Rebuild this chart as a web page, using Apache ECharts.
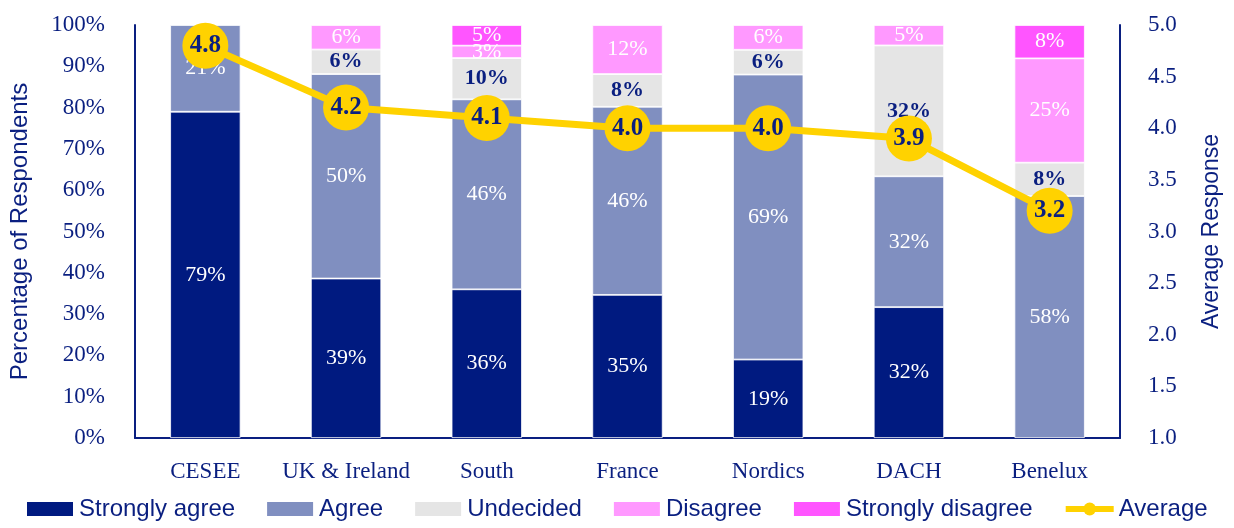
<!DOCTYPE html>
<html>

<head>
  <meta charset="utf-8">
  <script src="https://cdn.jsdelivr.net/npm/echarts@6/dist/echarts.min.js"></script>
  <style>
    body {
      margin: 0;
    }

    #chart {
      width: 1234px;
      height: 528px;
    }
  </style>
</head>

<body>
  <div id="chart"></div>
  <script>
    // data
    const regions = ['CESEE', 'UK & Ireland', 'South', 'France', 'Nordics', 'DACH', 'Benelux']
    const stronglyAgree = [79, 39, 36, 35, 19, 32, 0]
    const agree = [21, 50, 46, 46, 69, 32, 58]
    const undecided = [0, 6, 10, 8, 6, 32, 8]
    const disagree = [0, 6, 3, 12, 6, 5, 25]
    const stronglyDisagree = [0, 0, 5, 0, 0, 0, 8]
    const average = [4.8, 4.2, 4.1, 4.0, 4.0, 3.9, 3.2]
    const pctTicks = [0, 100, 10]
    const avgTicks = [1, 5, 0.5]

    const navy = '#0a1f80'
    const gold = '#ffd200'
    const serif = '"Liberation Serif", "DejaVu Serif", serif'
    const sans = '"Liberation Sans", sans-serif'

    // rounded shares don't always sum to 100, so bars are scaled to fill 100%
    const allShares = [stronglyAgree, agree, undecided, disagree, stronglyDisagree]
    const totals = regions.map((r, i) => allShares.reduce((s, a) => s + a[i], 0))

    function barSeries(name, data, color, labelColor) {
      return {
        name: name,
        type: 'bar',
        stack: 'total',
        barWidth: '50%',
        data: data.map((v, i) => ({
          value: v ? v / totals[i] * 100 : null,
          raw: v
        })),
        itemStyle: {
          color: color,
          borderColor: '#ffffff',
          borderWidth: 0.8
        },
        label: {
          show: true,
          color: labelColor,
          fontFamily: serif,
          fontSize: 22,
          fontWeight: labelColor === '#ffffff' ? 'normal' : 'bold',
          formatter: function (p) {
            return p.data.raw ? p.data.raw + '%' : ''
          }
        }
      }
    }

    const barNames = ['Strongly agree', 'Agree', 'Undecided', 'Disagree', 'Strongly disagree']

    const option = {
      animation: false,
      textStyle: {
        fontFamily: serif,
        color: navy
      },
      grid: {
        left: 135,
        right: 114,
        top: 25,
        bottom: 90
      },
      legend: {
        bottom: 2,
        left: 20,
        itemWidth: 48,
        itemHeight: 16,
        itemGap: 30,
        textStyle: {
          fontFamily: sans,
          fontSize: 24,
          color: navy
        },
        data: barNames.map(n => ({ name: n, icon: 'rect' })).concat([{
          name: 'Average',
          itemStyle: { color: gold, borderWidth: 0 },
          lineStyle: { color: gold, width: 6 }
        }])
      },
      xAxis: {
        type: 'category',
        data: regions,
        axisLine: {
          lineStyle: {
            color: navy,
            width: 2
          }
        },
        axisTick: {
          show: false
        },
        axisLabel: {
          interval: 0,
          color: navy,
          fontFamily: serif,
          fontSize: 23,
          margin: 22
        }
      },
      yAxis: [{
        type: 'value',
        min: pctTicks[0],
        max: pctTicks[1],
        interval: pctTicks[2],
        name: 'Percentage of Respondents',
        nameLocation: 'middle',
        nameGap: 103,
        nameTextStyle: {
          fontFamily: sans,
          fontSize: 24,
          color: navy
        },
        axisLine: {
          show: true,
          lineStyle: {
            color: navy,
            width: 2
          }
        },
        splitLine: {
          show: false
        },
        axisLabel: {
          color: navy,
          fontFamily: serif,
          fontSize: 23,
          margin: 30,
          formatter: '{value}%'
        }
      }, {
        type: 'value',
        min: avgTicks[0],
        max: avgTicks[1],
        interval: avgTicks[2],
        name: 'Average Response',
        nameLocation: 'middle',
        nameGap: 80,
        nameRotate: 90,
        nameTextStyle: {
          fontFamily: sans,
          fontSize: 23,
          color: navy
        },
        axisLine: {
          show: true,
          lineStyle: {
            color: navy,
            width: 2
          }
        },
        splitLine: {
          show: false
        },
        axisLabel: {
          color: navy,
          fontFamily: serif,
          fontSize: 23,
          margin: 28,
          formatter: function (v) {
            return v.toFixed(1)
          }
        }
      }],
      series: [
        barSeries('Strongly agree', stronglyAgree, '#001a80', '#ffffff'),
        barSeries('Agree', agree, '#808fc0', '#ffffff'),
        barSeries('Undecided', undecided, '#e5e5e5', navy),
        barSeries('Disagree', disagree, '#ff99ff', '#ffffff'),
        barSeries('Strongly disagree', stronglyDisagree, '#ff55ff', '#ffffff'),
        {
          name: 'Average',
          type: 'line',
          yAxisIndex: 1,
          data: average,
          symbol: 'circle',
          symbolSize: 46,
          lineStyle: {
            color: gold,
            width: 7
          },
          itemStyle: {
            color: gold
          },
          label: {
            show: true,
            position: 'inside',
            color: navy,
            fontFamily: serif,
            fontSize: 25,
            fontWeight: 'bold',
            formatter: function (p) {
              return p.value.toFixed(1)
            }
          },
          z: 5
        }
      ]
    }

    const chart = echarts.init(document.getElementById('chart'))
    chart.setOption(option)
  </script>
</body>

</html>
